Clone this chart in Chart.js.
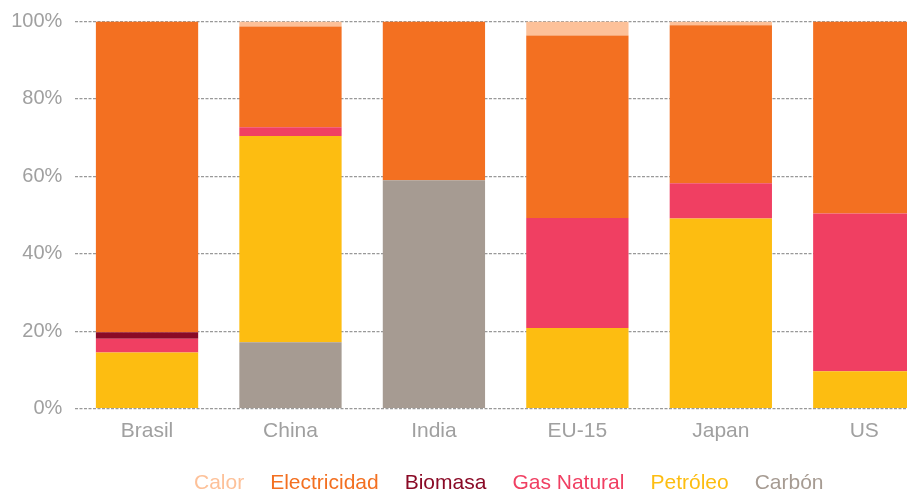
<!DOCTYPE html>
<html>
<head>
<meta charset="utf-8">
<script src="https://cdn.jsdelivr.net/npm/chart.js@4"></script>
<style>
  body { margin: 0; background: #fff; }
  #wrap { width: 907px; height: 495px; overflow: hidden; }
</style>
</head>
<body>
<div id="wrap"><canvas id="myChart" width="1007" height="504"></canvas></div>
<script>
const countries = ['Brasil', 'China', 'India', 'EU-15', 'Japan', 'US'];

// stacked bottom to top
const carbon = [0, 17.1, 59.0, 0, 0, 0];
const petroleo = [14.5, 53.3, 0, 20.8, 49.1, 9.6];
const gasNatural = [3.5, 2.3, 0, 28.4, 9.1, 40.8];
const biomasa = [1.7, 0, 0, 0, 0, 0];
const electricidad = [80.3, 26.0, 41.0, 47.2, 40.8, 49.6];
const calor = [0, 1.3, 0, 3.6, 1.0, 0];

const yTicks = [0, 20, 40, 60, 80, 100];

const fontFamily = "Arial, 'Liberation Sans', Helvetica, sans-serif";
const grey = '#a0a0a0';

const datasets = [
    { label: 'Carbón', data: carbon, backgroundColor: '#a69b92' },
    { label: 'Petróleo', data: petroleo, backgroundColor: '#fdbd11' },
    { label: 'Gas Natural', data: gasNatural, backgroundColor: '#f03f62' },
    { label: 'Biomasa', data: biomasa, backgroundColor: '#8a0a26' },
    { label: 'Electricidad', data: electricidad, backgroundColor: '#f37021' },
    { label: 'Calor', data: calor, backgroundColor: '#fdc199' }
];
datasets.forEach(function (d) {
    d.barPercentage = 0.713;
    d.categoryPercentage = 1;
    d.borderWidth = 0;
});

const ctx = document.getElementById('myChart').getContext('2d');
const myChart = new Chart(ctx, {
    type: 'bar',
    data: { labels: countries, datasets: datasets },
    options: {
        responsive: false,
        animation: false,
        layout: { padding: { top: 21.5 } },
        plugins: {
            tooltip: { enabled: false },
            legend: {
                position: 'bottom',
                labels: {
                    boxWidth: 0,
                    boxHeight: 0,
                    padding: 15.5,
                    font: { family: fontFamily, size: 21 },
                    generateLabels: function (chart) {
                        return chart.data.datasets.map(function (d, i) {
                            return {
                                text: d.label,
                                fontColor: d.backgroundColor,
                                fillStyle: 'rgba(0,0,0,0)',
                                strokeStyle: 'rgba(0,0,0,0)',
                                lineWidth: 0,
                                hidden: false,
                                datasetIndex: i
                            };
                        }).reverse();
                    }
                }
            }
        },
        scales: {
            x: {
                stacked: true,
                grid: { display: false, drawTicks: false },
                border: { display: false },
                ticks: { color: grey, padding: 10, font: { family: fontFamily, size: 21 } },
                afterFit: function (s) { s.height = 49; }
            },
            y: {
                stacked: true,
                min: 0,
                max: 100,
                z: 1,
                afterBuildTicks: function (s) {
                    s.ticks = yTicks.map(function (v) { return { value: v }; });
                },
                grid: {
                    color: '#999999',
                    lineWidth: 1.2,
                    drawTicks: false
                },
                border: { display: false, dash: [3, 1.5] },
                ticks: {
                    color: grey,
                    padding: 13,
                    font: { family: fontFamily, size: 20 },
                    callback: function (v) { return v + '%'; }
                },
                afterFit: function (s) {
                    s.width = 75.3;
                    s.paddingTop = 0;
                    s.paddingBottom = 0;
                }
            },
            yR: {
                position: 'right',
                grid: { display: false },
                border: { display: false },
                ticks: { display: false },
                afterFit: function (s) { s.width = 71; }
            }
        }
    }
});
</script>
</body>
</html>
